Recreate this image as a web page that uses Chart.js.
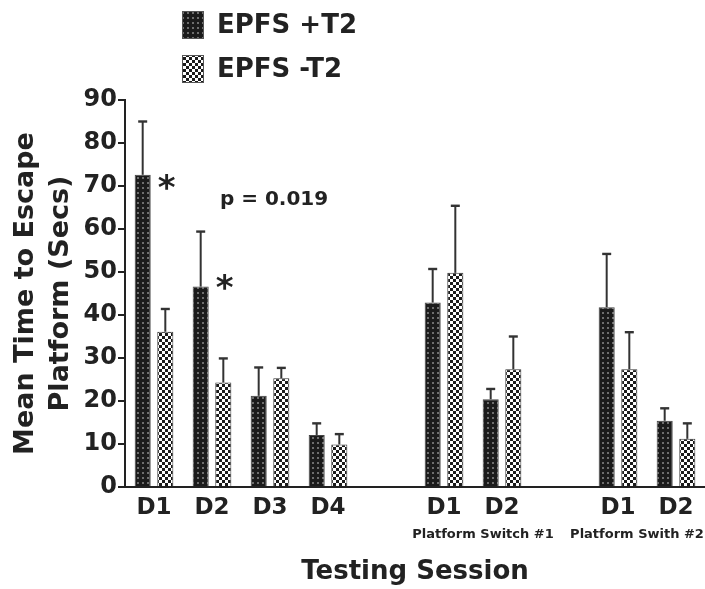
<!DOCTYPE html>
<html>
<head>
<meta charset="utf-8">
<script src="https://cdn.jsdelivr.net/npm/chart.js@4/dist/chart.umd.min.js"></script>
<style>
  html, body { margin: 0; padding: 0; background: #fff; }
  #wrap { width: 705px; height: 589px; position: relative; }
</style>
</head>
<body>
<div id="wrap"><canvas id="grafico"></canvas></div>
<script>
// categorias (los huecos separan los bloques de sesiones)
const sesiones = ["D1", "D2", "D3", "D4", "", "D1", "D2", "", "D1", "D2"];

const conT2 = [72.6, 46.6, 21.2, 12.1, null, 42.9, 20.4, null, 41.8, 15.4];
const conT2Err = [12.4, 12.8, 6.6, 2.7, null, 7.8, 2.4, null, 12.4, 2.9];

const sinT2 = [36.1, 24.3, 25.3, 9.9, null, 49.8, 27.4, null, 27.4, 11.2];
const sinT2Err = [5.3, 5.6, 2.4, 2.4, null, 15.6, 7.6, null, 8.6, 3.6];

const yTicks = [0, 10, 20, 30, 40, 50, 60, 70, 80, 90];

const estrellas = [{ cat: 0, valor: 70.5 }, { cat: 1, valor: 47.2 }];
const textoP = "p = 0.019";
const subtitulos = ["Platform Switch #1", "Platform Swith #2"];

const FUENTE = "'DejaVu Sans'";
const TINTA = "#222";

function patronPuntos() {
    const c = document.createElement("canvas");
    c.width = 5; c.height = 5;
    const g = c.getContext("2d");
    g.fillStyle = "#1b1b1b";
    g.fillRect(0, 0, 5, 5);
    g.fillStyle = "#6e6e6e";
    g.fillRect(2, 2, 2, 2);
    return g.createPattern(c, "repeat");
}

function patronCuadros() {
    const c = document.createElement("canvas");
    c.width = 6; c.height = 6;
    const g = c.getContext("2d");
    g.fillStyle = "#ffffff";
    g.fillRect(0, 0, 6, 6);
    g.fillStyle = "#1b1b1b";
    g.fillRect(0, 0, 3, 3);
    g.fillRect(3, 3, 3, 3);
    return g.createPattern(c, "repeat");
}

const errores = [conT2Err, sinT2Err];

const barrasError = {
    id: "barrasError",
    afterDatasetsDraw(chart) {
        const ctx = chart.ctx;
        const y = chart.scales.y;
        ctx.save();
        ctx.strokeStyle = "#333";
        chart.data.datasets.forEach((ds, d) => {
            const meta = chart.getDatasetMeta(d);
            meta.data.forEach((bar, i) => {
                const v = ds.data[i];
                const e = errores[d][i];
                if (v == null || e == null) return;
                const top = y.getPixelForValue(v + e);
                ctx.lineWidth = 2;
                ctx.beginPath();
                ctx.moveTo(bar.x, bar.y);
                ctx.lineTo(bar.x, top);
                ctx.stroke();
                ctx.lineWidth = 2.4;
                ctx.beginPath();
                ctx.moveTo(bar.x - 4.5, top);
                ctx.lineTo(bar.x + 4.5, top);
                ctx.stroke();
            });
        });
        ctx.restore();
    }
};

const anotaciones = {
    id: "anotaciones",
    afterDraw(chart) {
        const ctx = chart.ctx;
        const x = chart.scales.x;
        const y = chart.scales.y;
        ctx.save();
        ctx.fillStyle = TINTA;

        // asteriscos
        ctx.font = "bold 34px " + FUENTE;
        ctx.textAlign = "center";
        ctx.textBaseline = "alphabetic";
        estrellas.forEach(s => {
            const bar = chart.getDatasetMeta(0).data[s.cat];
            ctx.fillText("*", bar.x + bar.width / 2 + 16, y.getPixelForValue(s.valor) + 15);
        });

        // valor p
        ctx.font = "bold 20px " + FUENTE;
        ctx.textBaseline = "middle";
        ctx.fillText(textoP, x.getPixelForValue(2.07), y.getPixelForValue(66.7));

        // subtitulos de bloques
        ctx.font = "bold 13px " + FUENTE;
        ctx.fillText(subtitulos[0], x.getPixelForValue(5.5) + 10, 535);
        ctx.fillText(subtitulos[1], x.getPixelForValue(8.5) - 10, 535);

        // leyenda
        ctx.textAlign = "left";
        chart.data.datasets.forEach((ds, d) => {
            const top = 11 + d * 44;
            ctx.fillStyle = ds.backgroundColor;
            ctx.fillRect(182, top, 22, 28);
            ctx.strokeStyle = "#555";
            ctx.lineWidth = 1;
            ctx.strokeRect(182.5, top + 0.5, 21, 27);
            ctx.fillStyle = TINTA;
            ctx.font = "bold 26px " + FUENTE;
            ctx.fillText(ds.label, 217, top + 15);
        });
        ctx.restore();
    }
};

new Chart(document.getElementById("grafico"), {
    type: "bar",
    data: {
        labels: sesiones,
        datasets: [
            {
                label: "EPFS +T2",
                data: conT2,
                backgroundColor: patronPuntos(),
                borderColor: "#444",
                borderWidth: 1
            },
            {
                label: "EPFS -T2",
                data: sinT2,
                backgroundColor: patronCuadros(),
                borderColor: "#333",
                borderWidth: 1
            }
        ]
    },
    options: {
        responsive: true,
        maintainAspectRatio: false,
        animation: false,
        layout: { padding: { top: 100, left: 0, right: 0, bottom: 0 } },
        datasets: {
            bar: { categoryPercentage: 0.78, barPercentage: 0.71, skipNull: false }
        },
        plugins: {
            legend: { display: false },
            tooltip: { enabled: false }
        },
        scales: {
            x: {
                grid: { display: false, drawTicks: false },
                border: { display: true, color: TINTA, width: 2 },
                ticks: {
                    color: TINTA,
                    font: { family: FUENTE, size: 23, weight: "bold" },
                    padding: 7,
                    maxRotation: 0,
                    autoSkip: false
                },
                title: {
                    display: true,
                    text: "Testing Session",
                    color: TINTA,
                    font: { family: FUENTE, size: 26, weight: "bold", lineHeight: 1.2 },
                    padding: { top: 0, bottom: 1 }
                },
                afterFit(scale) { scale.height = 102; }
            },
            y: {
                min: 0,
                max: 90,
                afterBuildTicks(scale) { scale.ticks = yTicks.map(v => ({ value: v })); },
                grid: {
                    drawOnChartArea: false,
                    drawTicks: true,
                    tickLength: 7,
                    color: TINTA,
                    lineWidth: 2
                },
                border: { display: true, color: TINTA, width: 2 },
                ticks: {
                    color: TINTA,
                    font: { family: FUENTE, size: 24, weight: "bold" },
                    padding: 1
                },
                title: {
                    display: true,
                    text: ["Mean Time to Escape", "Platform (Secs)"],
                    color: TINTA,
                    font: { family: FUENTE, size: 27, weight: "bold", lineHeight: 1.3 },
                    padding: { top: 8, bottom: 0 }
                },
                afterFit(scale) { scale.width = 125; }
            }
        }
    },
    plugins: [barrasError, anotaciones]
});
</script>
</body>
</html>
